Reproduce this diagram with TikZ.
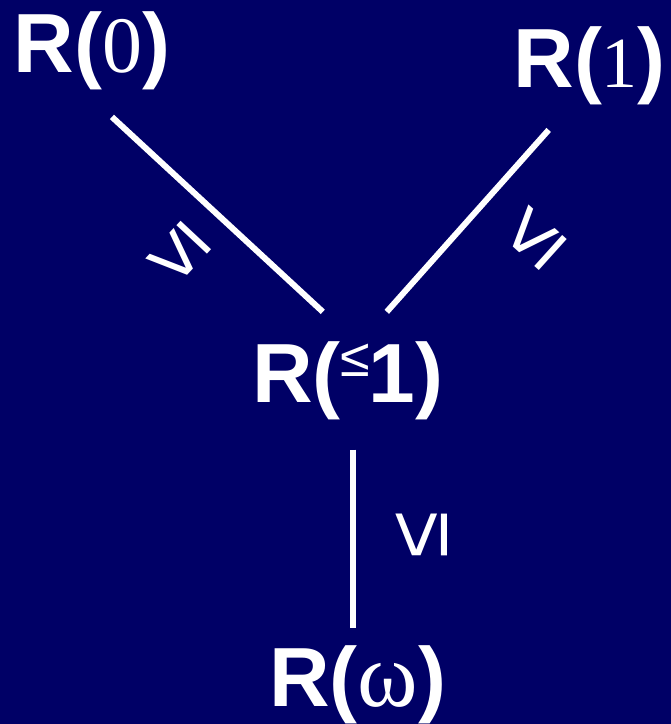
\documentclass[tikz,border=0pt]{standalone}
\usepackage{fontspec}
\setmainfont{Liberation Sans}
\newfontfamily\serifdig{Liberation Serif}
\usepackage{xcolor}
\definecolor{cBack}{HTML}{000066}
\definecolor{cInk}{HTML}{FFFFFF}
\usetikzlibrary{positioning,calc}
\tikzset{
  node-ring/.style={text=cInk,inner sep=0pt,anchor=base,
    font=\fontsize{84}{90}\selectfont\bfseries},
  node-rel/.style={text=cInk,inner sep=0pt,
    font=\fontsize{86}{86}\selectfont},
  link/.style={draw=cInk,line width=6pt},
}
\newcommand{\dig}[2][80]{{\fontsize{#1}{#1}\selectfont\mdseries\serifdig #2}}
\newcommand{\smallle}{\raisebox{26pt}{\fontsize{54}{54}\selectfont\mdseries ≤}}

\begin{document}
\begin{tikzpicture}[x=1pt,y=-1pt]
  \fill[cBack] (0,0) rectangle (671,724);
  % rings
  \node[node-ring] (r0)  at (92,73)  {R(\dig{0})};
  \node[node-ring] (r1)  at (590,88) {R(\dig[72]{1})};
  \node[node-ring] (rle) at (348,403) {R(\smallle\kern-2pt1)};
  \node[node-ring] (rw)  at (358,707) {R(\dig[92]{ω})};
  % links
  \draw[link] ([shift={(20,44)}]r0.base) -- ([shift={(-25,-91)}]rle.base);
  \draw[link] ([shift={(-41,42)}]r1.base) -- ([shift={(39,-91)}]rle.base);
  \draw[link] ([shift={(5,47)}]rle.base) -- ([shift={(-5,-79)}]rw.base);
  % order signs
  \node[node-rel,rotate=137] (le0) at (179,254) {≤};
  \node[node-rel,rotate=48]  (le1) at (534,238) {≤};
  \node[node-rel,rotate=90]  (lew) at (422,535) {≤};
\end{tikzpicture}
\end{document}
